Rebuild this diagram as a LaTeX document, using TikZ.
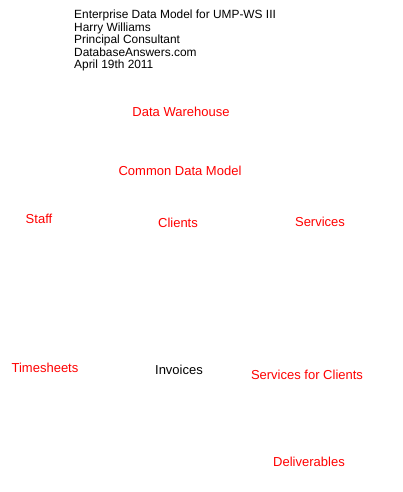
\documentclass[tikz,border=0pt]{standalone}
\usepackage{fontspec}
\setmainfont{Liberation Sans}
\usetikzlibrary{positioning}

\tikzset{
    entity/.style={text=red, font=\fontsize{13}{15}\selectfont, inner sep=0pt},
    header/.style={anchor=base west, font=\fontsize{11.9}{12.5}\selectfont, inner sep=0pt}
}

\begin{document}
\begin{tikzpicture}[x=1pt,y=-1pt]
    \useasboundingbox (0,0) rectangle (402,492);
    % header
    \node[header] (title) at (74,19) {Enterprise Data Model for UMP-WS III};
    \node[header] (author) at (74,31.5) {Harry Williams};
    \node[header] (role) at (74,44) {Principal Consultant};
    \node[header] (site) at (74,56.5) {DatabaseAnswers.com};
    \node[header] (date) at (74,69) {April 19th 2011};
    % entities
    \node[entity] (warehouse) at (181,112) {Data Warehouse};
    \node[entity] (cdm) at (180,171) {Common Data Model};
    \node[entity] (staff) at (39,219) {Staff};
    \node[entity] (clients) at (178,223) {Clients};
    \node[entity] (services) at (320,222) {Services};
    \node[entity] (timesheets) at (45,368) {Timesheets};
    \node[entity, text=black] (invoices) at (179,370) {Invoices};
    \node[entity] (clientservices) at (307,375) {Services for Clients};
    \node[entity] (deliverables) at (309,462) {Deliverables};
\end{tikzpicture}
\end{document}
